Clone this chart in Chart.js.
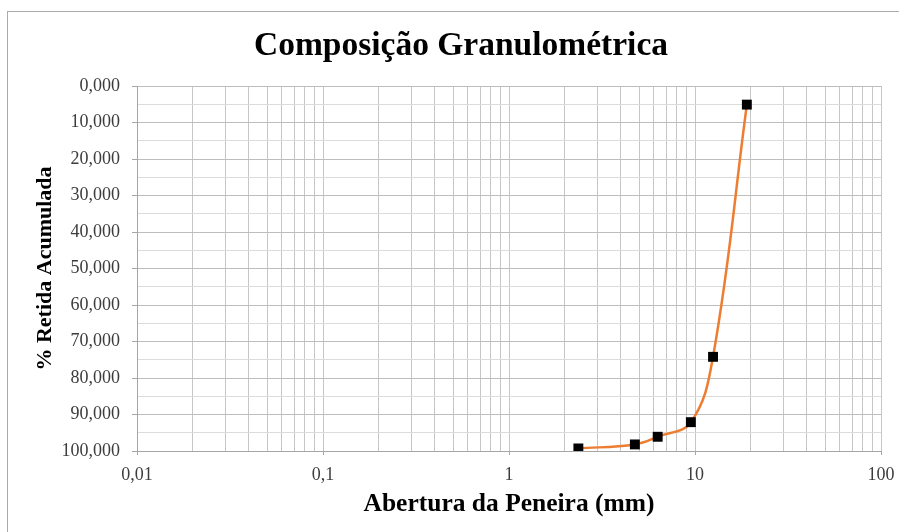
<!DOCTYPE html>
<html><head><meta charset="utf-8">
<script src="https://cdn.jsdelivr.net/npm/chart.js@4"></script>
<style>html,body{margin:0;padding:0;background:#fff;overflow:hidden}</style>
</head><body>
<canvas id="c" width="899" height="532" style="width:899px;height:532px;display:block"></canvas>
<script>
// Data
const sieveSizes = [2.36, 4.75, 6.3, 9.5, 12.5, 19];          // Abertura da peneira (mm)
const retainedCumulative = [99.3, 98.2, 96.1, 92.1, 74.2, 5.1]; // % retida acumulada
const xTickValues = [0.01, 0.1, 1, 10, 100];
const xTickLabels = ['0,01', '0,1', '1', '10', '100'];
const yTickValues = [0, 10, 20, 30, 40, 50, 60, 70, 80, 90, 100];
const yTickLabels = ['0,000', '10,000', '20,000', '30,000', '40,000', '50,000', '60,000', '70,000', '80,000', '90,000', '100,000'];

const SERIF = "'Liberation Serif', 'Times New Roman', serif";

function isDecade(v) {
  return xTickValues.some(d => Math.abs(v - d) / d < 1e-6);
}

const framePlugin = {
  id: 'frame',
  afterLayout(chart) {
    // centre the chart title over the same point as in the reference
    const tb = chart.titleBlock;
    if (tb) {
      const want = 461;
      const delta = want - (tb.left + tb.right) / 2;
      tb.left += delta;
      tb.right += delta;
    }
  },
  beforeDraw(chart) {
    const ctx = chart.ctx;
    ctx.save();
    ctx.fillStyle = '#ffffff';
    ctx.fillRect(0, 0, chart.width, chart.height);
    ctx.strokeStyle = '#ababab';
    ctx.lineWidth = 1;
    ctx.strokeRect(7.5, 11.5, 2000, 2000);
    ctx.restore();
  }
};

new Chart(document.getElementById('c'), {
  type: 'scatter',
  data: {
    datasets: [{
      label: '% Retida Acumulada',
      data: sieveSizes.map((x, i) => ({ x: x, y: retainedCumulative[i] })),
      showLine: true,
      borderColor: '#ED7D31',
      borderWidth: 2.5,
      tension: 0.4,
      pointStyle: 'rect',
      pointRadius: 7,
      pointHoverRadius: 7,
      pointBackgroundColor: '#000000',
      pointBorderColor: '#000000',
      pointBorderWidth: 0
    }]
  },
  options: {
    responsive: false,
    animation: false,
    layout: { padding: { left: 0, right: 18, top: 0, bottom: 0 } },
    plugins: {
      legend: { display: false },
      tooltip: { enabled: false },
      title: {
        display: true,
        text: 'Composição Granulométrica',
        color: '#000000',
        font: { family: SERIF, size: 33.5, weight: 'bold' },
        padding: { top: 26, bottom: 19.8 }
      }
    },
    scales: {
      x: {
        type: 'logarithmic',
        min: 0.01,
        max: 100,
        afterBuildTicks(scale) {
          const t = [];
          for (const d of [0.01, 0.1, 1, 10]) {
            for (let k = 1; k <= 9; k++) t.push({ value: Number((d * k).toPrecision(4)) });
          }
          t.push({ value: 100 });
          scale.ticks = t;
        },
        afterFit(scale) {
          scale.height = 81;
          scale.paddingLeft = 0;
          scale.paddingRight = 0;
        },
        ticks: {
          autoSkip: false,
          maxRotation: 0,
          minRotation: 0,
          padding: 9,
          color: '#3c3c3c',
          font: { family: SERIF, size: 18 },
          callback(value) {
            const i = xTickValues.findIndex(d => Math.abs(value - d) / d < 1e-6);
            return i >= 0 ? xTickLabels[i] : '';
          }
        },
        grid: {
          color: '#c6c6c6',
          lineWidth: 1,
          tickLength: 4,
          tickColor: ctx => (ctx.tick && isDecade(ctx.tick.value)) ? '#a6a6a6' : 'rgba(0,0,0,0)'
        },
        border: { color: '#a6a6a6', width: 1 },
        title: {
          display: true,
          text: 'Abertura da Peneira (mm)',
          color: '#000000',
          font: { family: SERIF, size: 25.5, weight: 'bold' },
          padding: { top: 0, bottom: 12 }
        }
      },
      y: {
        reverse: true,
        min: 0,
        max: 100,
        afterBuildTicks(scale) {
          const t = [];
          for (let v = 0; v <= 100; v += 5) t.push({ value: v });
          scale.ticks = t;
        },
        afterFit(scale) { scale.width = 137; },
        ticks: {
          autoSkip: false,
          padding: 12,
          color: '#3c3c3c',
          font: { family: SERIF, size: 18 },
          callback(value) {
            const i = yTickValues.indexOf(value);
            return i >= 0 ? yTickLabels[i] : '';
          }
        },
        grid: {
          color: ctx => (ctx.tick && ctx.tick.value % 10 === 0) ? '#bdbdbd' : '#dcdcdc',
          lineWidth: 1,
          tickLength: 5,
          tickColor: ctx => (ctx.tick && ctx.tick.value % 10 === 0) ? '#a6a6a6' : 'rgba(0,0,0,0)'
        },
        border: { color: '#a6a6a6', width: 1 },
        title: {
          display: true,
          text: '% Retida Acumulada',
          color: '#000000',
          font: { family: SERIF, size: 22, weight: 'bold' },
          padding: { top: 32, bottom: 0 }
        }
      }
    }
  },
  plugins: [framePlugin]
});
</script>
</body></html>
